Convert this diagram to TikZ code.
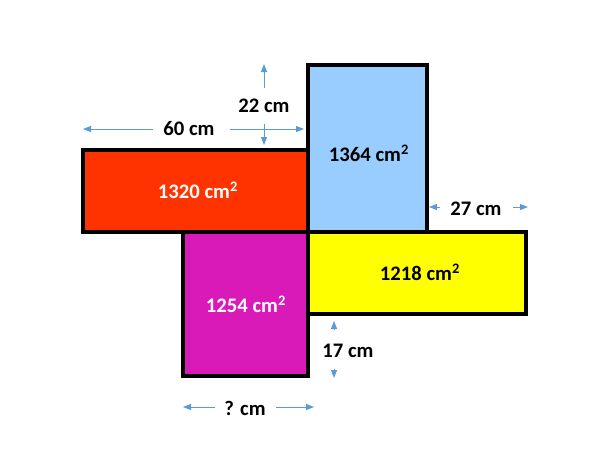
\documentclass[tikz,border=0pt]{standalone}
\usepackage{fontspec}
\setmainfont{Carlito}
\usetikzlibrary{arrows.meta}
\definecolor{cred}{HTML}{FF3300}
\definecolor{cblue}{HTML}{99CCFF}
\definecolor{cyel}{HTML}{FFFF00}
\definecolor{cmag}{HTML}{D91AB8}
\definecolor{carr}{HTML}{5B9BD5}
\tikzset{
  blk/.style={draw=black,line width=3pt},
  lbl/.style={font=\fontsize{15.5}{18}\selectfont\bfseries,inner sep=0pt},
  dim/.style={draw=carr,line width=0.75pt,-{Triangle[length=6pt,width=4.5pt]}},
}
\begin{document}
\begin{tikzpicture}[x=0.75pt,y=-0.75pt]
\useasboundingbox (0,0) rectangle (605,454);
\fill[white] (0,0) rectangle (605,454);
% rectangles
\draw[blk,fill=cred] (83,150) rectangle (308,232);
\draw[blk,fill=cblue] (308,65) rectangle (427,232);
\draw[blk,fill=cmag] (183,232) rectangle (308,376);
\draw[blk,fill=cyel] (308,232) rectangle (526,314);
% area labels
\node[lbl,text=white] (a1) at (198,190) {1320 cm\textsuperscript{2}};
\node[lbl,text=black] (a2) at (369,153) {1364 cm\textsuperscript{2}};
\node[lbl,text=black] (a3) at (420,272) {1218 cm\textsuperscript{2}};
\node[lbl,text=white] (a4) at (246,304) {1254 cm\textsuperscript{2}};
% dimension labels
\node[lbl] (d60) at (189,129) {60 cm};
\node[lbl] (d22) at (264,106) {22 cm};
\node[lbl] (d27) at (476,209) {27 cm};
\node[lbl] (d17) at (348,351) {17 cm};
\node[lbl] (dq) at (245,408) {? cm};
% arrow coordinates
\coordinate (l60a) at (153,129); \coordinate (l60b) at (83,129);
\coordinate (r60a) at (230,129); \coordinate (r60b) at (304,129);
\coordinate (u22a) at (264,88); \coordinate (u22b) at (264,64);
\coordinate (w22a) at (264,124); \coordinate (w22b) at (264,145);
\coordinate (l27a) at (440,207); \coordinate (l27b) at (429,207);
\coordinate (r27a) at (513,207); \coordinate (r27b) at (528,207);
\coordinate (u17a) at (334,330); \coordinate (u17b) at (334,321);
\coordinate (w17a) at (334,369); \coordinate (w17b) at (334,378);
\coordinate (lqa) at (215,407); \coordinate (lqb) at (183,407);
\coordinate (rqa) at (276,407); \coordinate (rqb) at (314,407);
\draw[dim] (l60a) -- (l60b);
\draw[dim] (r60a) -- (r60b);
\draw[dim] (u22a) -- (u22b);
\draw[dim] (w22a) -- (w22b);
\draw[dim] (l27a) -- (l27b);
\draw[dim] (r27a) -- (r27b);
\draw[dim] (u17a) -- (u17b);
\draw[dim] (w17a) -- (w17b);
\draw[dim] (lqa) -- (lqb);
\draw[dim] (rqa) -- (rqb);
\end{tikzpicture}
\end{document}
